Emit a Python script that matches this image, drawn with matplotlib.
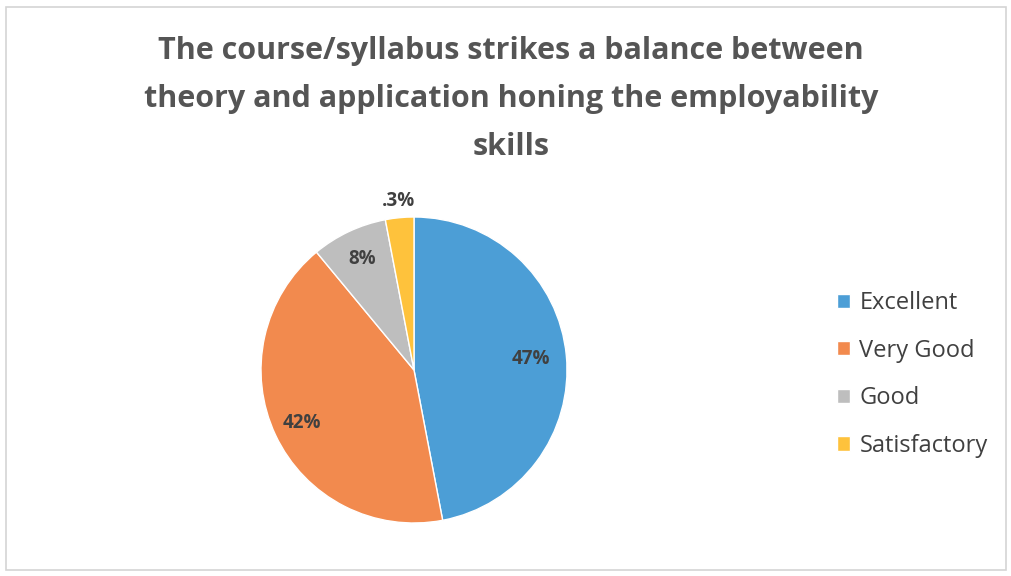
import matplotlib
matplotlib.use('Agg')
from matplotlib import pyplot as plt
from matplotlib.patches import Rectangle
import numpy as np

plt.rcParams['font.family'] = ['Open Sans', 'DejaVu Sans']

title = 'The course/syllabus strikes a balance between\ntheory and application honing the employability\nskills'
categories = ['Excellent', 'Very Good', 'Good', 'Satisfactory']
values = [47, 42, 8, 3]
pct_labels = ['47%', '42%', '8%', '.3%']
colors = ['#4C9ED6', '#F28A4E', '#BEBEBE', '#FEC23C']

fig = plt.figure(figsize=(10.12, 5.76), dpi=100)
fig.patch.set_facecolor('white')

# thin grey frame round the chart area
fig.patches.append(Rectangle((6/1012, 6/576), 1000/1012, 563/576, transform=fig.transFigure,
                             fill=False, edgecolor='#D4D4D4', linewidth=1.2))

fig.text(0.505, 0.937, title, ha='center', va='top', fontsize=22, fontweight='bold',
         color='#555555', linespacing=1.78)

ax = fig.add_axes((261/1012, 53/576, 306/1012, 306/576))
wedges, _ = ax.pie(values, colors=colors, startangle=90, counterclock=False,
                   wedgeprops=dict(edgecolor='white', linewidth=1.0))
ax.set_xlim(-1, 1)
ax.set_ylim(-1, 1)

# percentage labels, placed along each wedge's mid angle
dist = [0.77, 0.81, 0.80, 1.11]
for w, lab, d in zip(wedges, pct_labels, dist):
    ang = np.deg2rad((w.theta1 + w.theta2) / 2)
    ax.text(d*np.cos(ang), d*np.sin(ang), lab, ha='center', va='center',
            fontsize=13.5, fontweight='bold', color='#404040')

leg = fig.legend(wedges, categories, loc='center left', bbox_to_anchor=(0.806, 0.35),
                 frameon=False, fontsize=17, handlelength=0.55, handleheight=0.55,
                 handletextpad=0.4, labelspacing=1.0)
for t in leg.get_texts():
    t.set_color('#404040')

plt.savefig('out.png', dpi=100)
